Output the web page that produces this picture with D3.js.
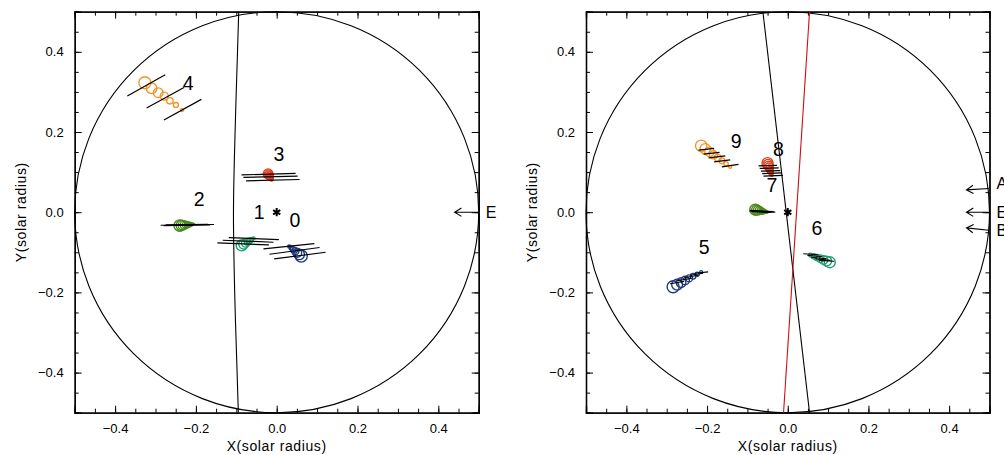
<!DOCTYPE html>
<html><head><meta charset="utf-8">
<script src="https://cdn.jsdelivr.net/npm/d3@7"></script>
<style>
body{margin:0;background:#fff}
svg{display:block}
text{font-family:"Liberation Sans",Arial,sans-serif;fill:#000}
</style>
</head><body>
<svg id="c" width="1004" height="455"></svg>
<script>
// ---------------- DATA ----------------
const majorTicks = [-0.4, -0.2, 0.0, 0.2, 0.4];
const majorLabels = ["\u22120.4", "\u22120.2", "0.0", "0.2", "0.4"];
const minorTicks = [-0.5,-0.45,-0.4,-0.35,-0.3,-0.25,-0.2,-0.15,-0.1,-0.05,0,0.05,0.1,0.15,0.2,0.25,0.3,0.35,0.4,0.45,0.5];
const xTitle = "X(solar radius)";
const yTitle = "Y(solar radius)";

// left panel: event 4 (orange)
const ev4X = [-0.3263,-0.3097,-0.2933,-0.2784,-0.2643,-0.2494,-0.2345];
const ev4Y = [0.3228,0.3089,0.2979,0.2896,0.2779,0.2672,0.2547];
const ev4R = [0.0149,0.0132,0.0119,0.0099,0.0079,0.0062,0.0037];
const ev4Lines = [[-0.3697,0.2900,-0.2759,0.3429],[-0.3220,0.2597,-0.2295,0.3110],[-0.2792,0.2297,-0.1866,0.2814]];
// event 3 (red)
const ev3X = [-0.0213,-0.0204,-0.0195,-0.0185,-0.0175,-0.0164,-0.0152,-0.0140,-0.0127];
const ev3Y = [0.0958,0.0943,0.0927,0.0910,0.0893,0.0875,0.0857,0.0838,0.0816];
const ev3R = [0.0120,0.0111,0.0101,0.0091,0.0081,0.0071,0.0061,0.0050,0.0040];
const ev3Lines = [[-0.0873,0.0931,0.0467,0.0966],[-0.0824,0.0866,0.0516,0.0901],[-0.0757,0.0782,0.0566,0.0816]];
// event 2 (green)
const ev2X = [-0.2402,-0.2364,-0.2326,-0.2288,-0.2250,-0.2212,-0.2174,-0.2136,-0.2098,-0.2060];
const ev2Y = [-0.0332,-0.0328,-0.0324,-0.0320,-0.0316,-0.0313,-0.0309,-0.0305,-0.0301,-0.0297];
const ev2R = [0.0141,0.0128,0.0115,0.0102,0.0088,0.0075,0.0062,0.0049,0.0036,0.0024];
const ev2Lines = [[-0.2873,-0.0325,-0.1551,-0.0307],[-0.2800,-0.0335,-0.1650,-0.0318],[-0.2750,-0.0315,-0.1700,-0.0300]];
// event 1 (teal)
const ev1X = [-0.0868,-0.0819,-0.0769,-0.0720,-0.0670,-0.0620,-0.0571];
const ev1Y = [-0.0829,-0.0799,-0.0769,-0.0739,-0.0709,-0.0679,-0.0649];
const ev1R = [0.0136,0.0119,0.0102,0.0084,0.0067,0.0050,0.0035];
const ev1Lines = [[-0.1186,-0.0632,0.0055,-0.0682],[-0.1335,-0.0699,-0.0079,-0.0749],[-0.1469,-0.0767,-0.0194,-0.0816]];
// event 0 (dark blue)
const ev0X = [0.0608,0.0558,0.0509,0.0459,0.0409,0.0360,0.0310];
const ev0Y = [-0.1094,-0.1054,-0.1014,-0.0974,-0.0934,-0.0894,-0.0854];
const ev0R = [0.0149,0.0129,0.0109,0.0089,0.0069,0.0052,0.0037];
const ev0Lines = [[-0.0328,-0.0916,0.0931,-0.0782],[-0.0179,-0.1049,0.1062,-0.0881],[-0.0062,-0.1166,0.1211,-0.0999]];

// right panel: event 9 (orange)
const ev9X = [-0.2146,-0.2045,-0.1940,-0.1839,-0.1735,-0.1633,-0.1529,-0.1427];
const ev9Y = [0.1655,0.1581,0.1506,0.1431,0.1356,0.1281,0.1206,0.1131];
const ev9R = [0.0141,0.0129,0.0117,0.0102,0.0087,0.0072,0.0055,0.0037];
const ev9Lines = [[-0.2211,0.1548,-0.1824,0.1590],[-0.2087,0.1448,-0.1690,0.1490],[-0.1963,0.1356,-0.1548,0.1406],[-0.1824,0.1256,-0.1427,0.1306],[-0.1634,0.1131,-0.1221,0.1191]];
// event 8 (red)
const ev8X = [-0.0501,-0.0490,-0.0478,-0.0467,-0.0455,-0.0444,-0.0432,-0.0420,-0.0409,-0.0397];
const ev8Y = [0.1223,0.1190,0.1157,0.1124,0.1090,0.1057,0.1024,0.0991,0.0957,0.0924];
const ev8R = [0.0136,0.0125,0.0113,0.0102,0.0090,0.0079,0.0067,0.0055,0.0044,0.0032];
const ev8Lines = [[-0.0725,0.1156,-0.0268,0.1166],[-0.0695,0.1091,-0.0223,0.1104],[-0.0665,0.1024,-0.0186,0.1039],[-0.0633,0.0961,-0.0149,0.0979],[-0.0600,0.0899,-0.0119,0.0919]];
// event 7 (green)
const ev7X = [-0.0806,-0.0773,-0.0740,-0.0707,-0.0674,-0.0641,-0.0608,-0.0575,-0.0542,-0.0509];
const ev7Y = [0.0062,0.0055,0.0049,0.0042,0.0035,0.0029,0.0022,0.0015,0.0009,0.0002];
const ev7R = [0.0136,0.0124,0.0111,0.0099,0.0087,0.0074,0.0062,0.0050,0.0037,0.0025];
const ev7Lines = [[-0.0930,0.0045,-0.0350,0.0015],[-0.0948,0.0032,-0.0310,0.0000],[-0.0900,0.0015,-0.0400,-0.0008]];
// event 5 (dark blue)
const ev5X = [-0.2841,-0.2742,-0.2643,-0.2543,-0.2444,-0.2345,-0.2246,-0.2146];
const ev5Y = [-0.1860,-0.1808,-0.1755,-0.1703,-0.1650,-0.1598,-0.1546,-0.1493];
const ev5R = [0.0149,0.0134,0.0119,0.0104,0.0087,0.0069,0.0052,0.0035];
const ev5Lines = [[-0.2916,-0.1785,-0.2568,-0.1723],[-0.2742,-0.1710,-0.2395,-0.1648],[-0.2568,-0.1635,-0.2221,-0.1573],[-0.2419,-0.1573,-0.2097,-0.1523],[-0.2295,-0.1523,-0.1973,-0.1486]];
// event 6 (teal)
const ev6X = [0.1042,0.0963,0.0883,0.0804,0.0725,0.0645,0.0566];
const ev6Y = [-0.1248,-0.1218,-0.1189,-0.1159,-0.1129,-0.1099,-0.1069];
const ev6R = [0.0136,0.0122,0.0107,0.0092,0.0077,0.0062,0.0047];
const ev6Lines = [[0.0385,-0.1036,0.0757,-0.1061],[0.0484,-0.1074,0.0856,-0.1111],[0.0583,-0.1124,0.0955,-0.1161],[0.0682,-0.1161,0.1055,-0.1199],[0.0782,-0.1199,0.1154,-0.1223]];

// meridian curve (left) and straight lines (right)
const merLX = [-0.094,-0.097,-0.103,-0.107,-0.104,-0.098,-0.095];
const merLY = [0.5,0.4,0.2,0.0,-0.2,-0.4,-0.5];
const rBlackLine = [-0.0616,0.5,0.054,-0.5];
const rRedLine = [0.054,0.5,-0.0104,-0.5];

// event number labels [x, y, text]
const leftLabels = [[-0.2189,0.3213,"4"],[0.0055,0.1448,"3"],[-0.1916,0.0325,"2"],[-0.0434,0.0,"1"],[0.0452,-0.0200,"0"]];
const rightLabels = [[-0.1278,0.1780,"9"],[-0.0228,0.1566,"8"],[-0.0392,0.0674,"7"],[-0.2072,-0.0866,"5"],[0.0725,-0.0382,"6"]];
// direction arrows [x1,y1,x2,y2,labelY,label]
const leftArrows = [[0.5,0.0,0.4404,0.0,0.0,"E"]];
const rightArrows = [[0.4983,0.0592,0.4429,0.0557,0.0717,"A"],[0.4983,0.0,0.4429,0.0,0.0,"E"],[0.4983,-0.0449,0.4429,-0.0392,-0.0449,"B"]];

const colOrange = "#F39325", colRed = "#E2401E", colGreen = "#4B8A1C", colTeal = "#1E9E72", colBlue = "#1D3A7E";

const leftEvents = [
  {x:ev4X,y:ev4Y,r:ev4R,lines:ev4Lines,c:colOrange},
  {x:ev3X,y:ev3Y,r:ev3R,lines:ev3Lines,c:colRed},
  {x:ev2X,y:ev2Y,r:ev2R,lines:ev2Lines,c:colGreen},
  {x:ev1X,y:ev1Y,r:ev1R,lines:ev1Lines,c:colTeal},
  {x:ev0X,y:ev0Y,r:ev0R,lines:ev0Lines,c:colBlue}];
const rightEvents = [
  {x:ev9X,y:ev9Y,r:ev9R,lines:ev9Lines,c:colOrange},
  {x:ev8X,y:ev8Y,r:ev8R,lines:ev8Lines,c:colRed},
  {x:ev7X,y:ev7Y,r:ev7R,lines:ev7Lines,c:colGreen},
  {x:ev5X,y:ev5Y,r:ev5R,lines:ev5Lines,c:colBlue},
  {x:ev6X,y:ev6Y,r:ev6R,lines:ev6Lines,c:colTeal}];

// ---------------- DRAW ----------------
const svg = d3.select("#c");
svg.append("rect").attr("width",1004).attr("height",455).attr("fill","#fff");

function panel(x0, x1, yTitleX, events, labels, arrows, extra){
  const x = d3.scaleLinear().domain([-0.5,0.5]).range([x0,x1]);
  const y = d3.scaleLinear().domain([-0.5,0.5]).range([412.7,11.7]);
  const g = svg.append("g");
  const fmt = (d)=> majorLabels[majorTicks.indexOf(d)];

  function ax(gen, tr, size, vals, lab){
    const a = gen.tickValues(vals).tickSize(size).tickPadding(11).tickFormat(lab?fmt:"");
    const s = g.append("g").attr("transform",tr).call(a);
    s.select(".domain").attr("stroke","#000").attr("stroke-width",1.3);
    s.selectAll(".tick line").attr("stroke","#000").attr("stroke-width",1);
    s.selectAll("text").style("font-size","13px").attr("fill","#000");
    return s;
  }
  ax(d3.axisBottom(x), `translate(0,${y(-0.5)})`, -4, minorTicks, false);
  ax(d3.axisBottom(x), `translate(0,${y(-0.5)})`, -7, majorTicks, true);
  ax(d3.axisTop(x), `translate(0,${y(0.5)})`, -4, minorTicks, false);
  ax(d3.axisTop(x), `translate(0,${y(0.5)})`, -7, majorTicks, false);
  ax(d3.axisLeft(y), `translate(${x(-0.5)},0)`, -4, minorTicks, false);
  ax(d3.axisLeft(y), `translate(${x(-0.5)},0)`, -7, majorTicks, true);
  ax(d3.axisRight(y), `translate(${x(0.5)},0)`, -4, minorTicks, false);
  ax(d3.axisRight(y), `translate(${x(0.5)},0)`, -7, majorTicks, false);

  g.append("text").attr("x",(x0+x1)/2).attr("y",451).attr("text-anchor","middle")
    .style("font-size","14px").style("letter-spacing","0.6px").text(xTitle);
  g.append("text").attr("transform",`translate(${yTitleX},${y(0)}) rotate(-90)`).attr("text-anchor","middle")
    .attr("dy","0.35em").style("font-size","14px").style("letter-spacing","0.6px").text(yTitle);

  // solar limb
  g.append("ellipse").attr("cx",x(0)).attr("cy",y(0))
    .attr("rx",x(0.5)-x(0)).attr("ry",y(0)-y(0.5))
    .attr("fill","none").attr("stroke","#000").attr("stroke-width",1.1);

  extra(g,x,y);

  events.forEach(ev=>{
    const pts = ev.x.map((d,i)=>({x:d,y:ev.y[i],r:ev.r[i]}));
    g.append("g").selectAll("circle").data(pts).join("circle")
      .attr("cx",d=>x(d.x)).attr("cy",d=>y(d.y))
      .attr("r",d=>x(d.r)-x(0))
      .attr("fill","none").attr("stroke",ev.c).attr("stroke-width",1.35);
    g.append("g").selectAll("line").data(ev.lines).join("line")
      .attr("x1",d=>x(d[0])).attr("y1",d=>y(d[1])).attr("x2",d=>x(d[2])).attr("y2",d=>y(d[3]))
      .attr("stroke","#000").attr("stroke-width",1.2);
  });

  // disk centre marker
  g.append("path").attr("transform",`translate(${x(0)},${y(0)})`)
    .attr("d",d3.symbol().type(d3.symbolAsterisk).size(48)())
    .attr("fill","none").attr("stroke","#000").attr("stroke-width",2);

  g.selectAll("text.lab").data(labels).join("text").attr("class","lab")
    .attr("x",d=>x(d[0])).attr("y",d=>y(d[1])).attr("dy","0.36em").attr("text-anchor","middle")
    .style("font-size","19.5px").text(d=>d[2]);

  arrows.forEach(a=>{
    const X1=x(a[0]),Y1=y(a[1]),X2=x(a[2]),Y2=y(a[3]);
    const ang=Math.atan2(Y2-Y1,X2-X1), hl=8, ha=0.55;
    const p = d3.path();
    p.moveTo(X1,Y1); p.lineTo(X2,Y2);
    p.moveTo(X2-hl*Math.cos(ang-ha),Y2-hl*Math.sin(ang-ha)); p.lineTo(X2,Y2);
    p.lineTo(X2-hl*Math.cos(ang+ha),Y2-hl*Math.sin(ang+ha));
    g.append("path").attr("d",p.toString()).attr("fill","none").attr("stroke","#000").attr("stroke-width",1.1);
    g.append("text").attr("x",x(0.5)+7).attr("y",y(a[4])).attr("dy","0.36em")
      .style("font-size","16px").text(a[5]);
  });
}

panel(74.7, 478.7, 21.5, leftEvents, leftLabels, leftArrows, (g,x,y)=>{
  const pts = merLX.map((d,i)=>[d,merLY[i]]);
  g.append("path").attr("d",d3.line().x(d=>x(d[0])).y(d=>y(d[1])).curve(d3.curveCatmullRom)(pts))
    .attr("fill","none").attr("stroke","#000").attr("stroke-width",1.1);
});
panel(586, 989.5, 532, rightEvents, rightLabels, rightArrows, (g,x,y)=>{
  g.append("line").attr("x1",x(rBlackLine[0])).attr("y1",y(rBlackLine[1])).attr("x2",x(rBlackLine[2])).attr("y2",y(rBlackLine[3]))
    .attr("stroke","#000").attr("stroke-width",1.1);
  g.append("line").attr("x1",x(rRedLine[0])).attr("y1",y(rRedLine[1])).attr("x2",x(rRedLine[2])).attr("y2",y(rRedLine[3]))
    .attr("stroke","#D01010").attr("stroke-width",1.1);
});
</script>
</body></html>
